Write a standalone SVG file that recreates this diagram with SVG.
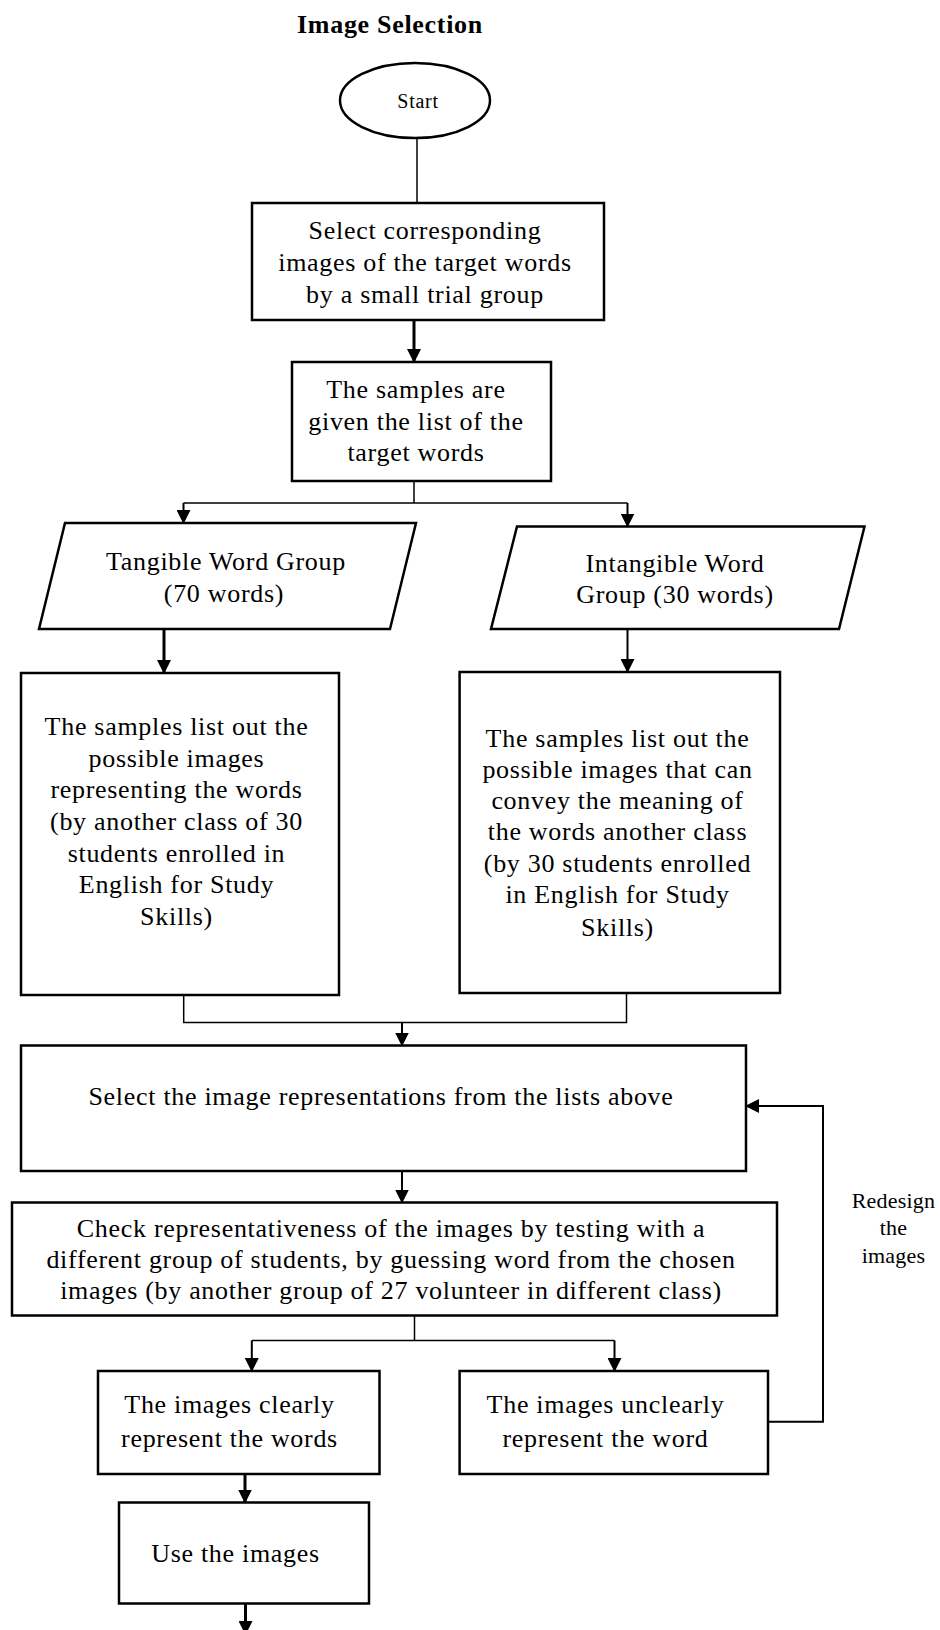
<svg xmlns="http://www.w3.org/2000/svg" width="940" height="1630" viewBox="0 0 940 1630">
<style>
  .box { fill: #fff; stroke: #000; stroke-width: 2.5; }
  .t { font-family: "Liberation Serif", "Times New Roman", serif; font-size: 26px; letter-spacing: 0.7px; text-anchor: middle; fill: #000; }
  .title { font-weight: bold; }
  .small { font-size: 20px; letter-spacing: 0.7px; }
  .lbl { font-size: 22px; letter-spacing: 0.2px; }
  .c { fill: none; stroke: #000; stroke-width: 1.5; }
  .ca { fill: none; stroke: #000; stroke-width: 3; marker-end: url(#ah); }
  .cb { fill: none; stroke: #000; stroke-width: 2; marker-end: url(#ah); }
</style>
<defs>
  <marker id="ah" markerUnits="userSpaceOnUse" markerWidth="14" markerHeight="14" viewBox="0 0 14 14" refX="13" refY="7" orient="auto">
    <path d="M0,0 L14,7 L0,14 Z" fill="#000"/>
  </marker>
</defs>

<text class="t title" x="390" y="33">Image Selection</text>

<g id="connectors">
  <path class="c" d="M417,138 V203"/>
  <path class="ca" d="M414,320 V362"/>
  <path class="c" d="M414,481 V503 M183.5,503 H627.5"/>
  <path class="cb" d="M183.5,503 V523"/>
  <path class="cb" d="M627.5,503 V526.5"/>
  <path class="ca" d="M164,629 V673"/>
  <path class="cb" d="M627.5,629 V672"/>
  <path class="c" d="M183.7,995 V1022.5 H626.5 V993"/>
  <path class="cb" d="M402,1022.5 V1045.5"/>
  <path class="cb" d="M402,1171 V1202.5"/>
  <path class="c" d="M414.5,1315.5 V1340.5 M251.8,1340.5 H614.5"/>
  <path class="cb" d="M251.8,1340.5 V1371"/>
  <path class="cb" d="M614.5,1340.5 V1371"/>
  <path class="cb" d="M768,1421.7 H823 V1106 H746"/>
  <path class="ca" d="M245,1474 V1502.5"/>
  <path class="ca" d="M245.5,1603.5 V1634"/>
</g>

<g id="start">
  <ellipse cx="415" cy="100.5" rx="75" ry="37.5" class="box"/>
  <text class="t small" x="418" y="108">Start</text>
</g>

<g id="select-images">
  <rect class="box" x="252" y="203" width="352" height="117"/>
  <text class="t" x="425" y="239">Select corresponding</text>
  <text class="t" x="425" y="271">images of the target words</text>
  <text class="t" x="425" y="303">by a small trial group</text>
</g>

<g id="given-list">
  <rect class="box" x="292" y="362" width="259" height="119"/>
  <text class="t" x="416" y="398">The samples are</text>
  <text class="t" x="416" y="430">given the list of the</text>
  <text class="t" x="416" y="461">target words</text>
</g>

<g id="tangible">
  <polygon class="box" points="65,523 416,523 390,629 39,629"/>
  <text class="t" x="226" y="570">Tangible Word Group</text>
  <text class="t" x="224" y="601.5">(70 words)</text>
</g>

<g id="intangible">
  <polygon class="box" points="517,526.5 864.5,526.5 839,629 491,629"/>
  <text class="t" x="675" y="571.5">Intangible Word</text>
  <text class="t" x="675" y="603">Group (30 words)</text>
</g>

<g id="tangible-list">
  <rect class="box" x="21" y="673" width="318" height="322"/>
  <text class="t" x="176.5" y="735">The samples list out the</text>
  <text class="t" x="176.5" y="767">possible images</text>
  <text class="t" x="176.5" y="798">representing the words</text>
  <text class="t" x="176.5" y="830">(by another class of 30</text>
  <text class="t" x="176.5" y="862">students enrolled in</text>
  <text class="t" x="176.5" y="893">English for Study</text>
  <text class="t" x="176.5" y="925">Skills)</text>
</g>

<g id="intangible-list">
  <rect class="box" x="459.6" y="672" width="320.4" height="321"/>
  <text class="t" x="617.5" y="746.5">The samples list out the</text>
  <text class="t" x="617.5" y="777.5">possible images that can</text>
  <text class="t" x="617.5" y="808.5">convey the meaning of</text>
  <text class="t" x="617.5" y="840">the words another class</text>
  <text class="t" x="617.5" y="872">(by 30 students enrolled</text>
  <text class="t" x="617.5" y="903">in English for Study</text>
  <text class="t" x="617.5" y="936">Skills)</text>
</g>

<g id="select-representations">
  <rect class="box" x="21" y="1045.5" width="725" height="125.5"/>
  <text class="t" x="381" y="1105">Select the image representations from the lists above</text>
</g>

<g id="check">
  <rect class="box" x="12" y="1202.5" width="765" height="113"/>
  <text class="t" x="391" y="1236.5">Check representativeness of the images by testing with a</text>
  <text class="t" x="391" y="1268">different group of students, by guessing word from the chosen</text>
  <text class="t" x="391" y="1299">images (by another group of 27 volunteer in different class)</text>
</g>

<g id="redesign-label">
  <text class="t lbl" x="893.5" y="1208.3">Redesign</text>
  <text class="t lbl" x="893.5" y="1235">the</text>
  <text class="t lbl" x="893.5" y="1262.7">images</text>
</g>

<g id="clear">
  <rect class="box" x="98" y="1371" width="281.5" height="103"/>
  <text class="t" x="229.5" y="1413">The images clearly</text>
  <text class="t" x="229.5" y="1446.5">represent the words</text>
</g>

<g id="unclear">
  <rect class="box" x="459.6" y="1371" width="308.4" height="103"/>
  <text class="t" x="605.5" y="1413">The images unclearly</text>
  <text class="t" x="605.5" y="1446.5">represent the word</text>
</g>

<g id="use">
  <rect class="box" x="119" y="1502.5" width="250" height="101"/>
  <text class="t" x="235.5" y="1561.5">Use the images</text>
</g>
</svg>
